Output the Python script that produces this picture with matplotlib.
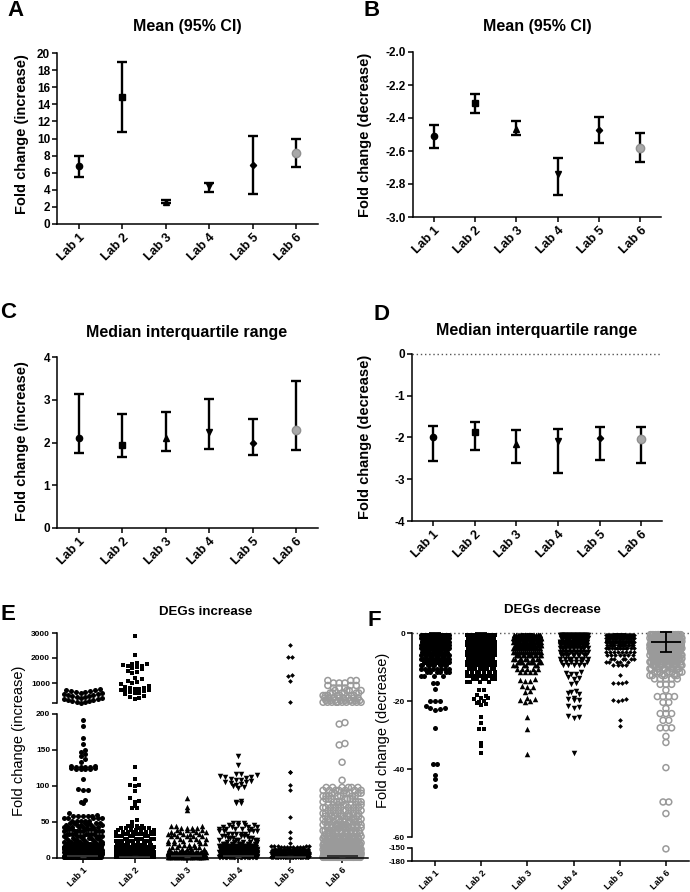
import numpy as np
import matplotlib
matplotlib.use("Agg")
import matplotlib.pyplot as plt

plt.rcParams['font.family'] = ['Liberation Sans', 'DejaVu Sans']
plt.rcParams['font.weight'] = 'bold'
plt.rcParams['axes.unicode_minus'] = False

labs = ['Lab 1', 'Lab 2', 'Lab 3', 'Lab 4', 'Lab 5', 'Lab 6']

# A - mean (95% CI), increase
inc_mean = [6.8, 14.9, 2.6, 4.4, 6.9, 8.3]
inc_ci_lo = [5.5, 10.8, 2.4, 3.7, 3.5, 6.7]
inc_ci_hi = [8.0, 19.0, 2.8, 4.75, 10.3, 10.0]

# B - mean (95% CI), decrease
dec_mean = [-2.51, -2.31, -2.465, -2.74, -2.47, -2.58]
dec_ci_lo = [-2.584, -2.368, -2.50, -2.865, -2.553, -2.668]
dec_ci_hi = [-2.443, -2.252, -2.42, -2.644, -2.392, -2.493]

# C - median + IQR, increase
inc_med = [2.10, 1.94, 2.10, 2.25, 2.00, 2.29]
inc_q1 = [1.75, 1.67, 1.79, 1.85, 1.71, 1.83]
inc_q3 = [3.13, 2.66, 2.71, 3.02, 2.56, 3.43]

# D - median + IQR, decrease
dec_med = [-2.00, -1.88, -2.16, -2.09, -2.02, -2.04]
dec_q1 = [-2.57, -2.29, -2.61, -2.85, -2.55, -2.60]
dec_q3 = [-1.72, -1.64, -1.83, -1.79, -1.74, -1.76]

# F - SD around the mean (only lab 6 / lab 1 caps visible)
dec_sd = [2.6, 2.4, 2.3, 2.5, 2.2, 2.9]

# E - individual DEGs (increase): dense bands as level/count, plus single points
e_levels = [
    [1, 3, 5, 7, 9, 11, 13, 15, 17, 19, 22, 25, 28, 31, 34, 37, 40, 43, 46, 49, 52, 55, 58],
    [1, 3, 5, 7, 9, 11, 13, 15, 18, 21, 24, 27, 30, 33, 36, 39, 42, 45],
    [1, 3, 5, 7, 9, 12, 15, 18, 21, 24, 27, 30, 33, 36, 39, 42, 45],
    [1, 3, 5, 7, 9, 11, 13, 15, 17, 19, 22, 25, 28, 31, 34, 37, 40, 43, 46, 48],
    [1, 3, 5, 7, 9, 11, 13, 15, 17],
    [1, 3, 5, 7, 9, 12, 15, 18, 21, 24, 27, 30, 34, 38, 42, 46, 50, 54, 58, 62, 66, 70,
     74, 78, 82, 86, 90, 94, 98, 230, 300, 400, 500, 600, 700, 800, 900, 1000, 1100],
]
e_counts = [
    [40, 40, 40, 40, 35, 30, 30, 25, 25, 20, 6, 6, 6, 7, 8, 8, 7, 7, 6, 6, 5, 5, 4],
    [40, 40, 40, 35, 35, 30, 30, 25, 8, 7, 7, 7, 7, 7, 6, 5, 5, 4],
    [25, 25, 20, 20, 15, 5, 5, 4, 4, 4, 4, 5, 5, 4, 4, 4, 3],
    [35, 35, 30, 30, 25, 25, 20, 20, 15, 12, 5, 5, 5, 5, 5, 5, 5, 4, 4, 3],
    [35, 30, 30, 25, 20, 15, 12, 8, 5],
    [40, 40, 35, 30, 25, 20, 18, 15, 14, 12, 12, 12, 10, 10, 10, 10, 9, 9, 9, 8, 8, 8,
     8, 8, 7, 7, 7, 7, 6, 10, 9, 8, 7, 6, 4, 3, 3, 3, 3],
]
e_single = [
    [59, 60, 62, 76, 78, 80, 94, 95, 96, 110, 123, 123, 124, 124, 125, 125, 126, 126, 127,
     127, 128, 128, 133, 137, 141, 144, 147, 150, 159, 166, 183, 192,
     220, 230, 250, 270, 300, 320, 340, 360, 380, 400, 420, 440, 460, 480, 500, 520, 540,
     560, 580, 600, 620, 640, 660, 680, 700, 720, 740, 760],
    [50, 53, 70, 70, 72, 78, 79, 84, 93, 100, 101, 101, 110, 127,
     360, 400, 450, 500, 550, 600, 620, 650, 680, 700, 720, 740, 760, 780, 800, 820, 850,
     900, 950, 1000, 1050, 1100, 1150, 1200, 1400, 1450, 1500, 1550, 1600, 1650, 1680,
     1700, 1720, 1750, 1780, 1800, 2120, 2880],
    [67, 71, 84],
    [76, 77, 78, 79, 97, 98, 100, 101, 103, 104, 105, 106, 107, 108, 109, 110, 111, 112,
     113, 114, 115, 116, 117, 129, 142],
    [21, 28, 36, 57, 94, 101, 119, 120, 250, 1080, 1280, 1320, 2050, 2050, 2520],
    [108, 133, 157, 159, 186, 188],
]

# F - individual DEGs (decrease)
f_levels = [
    [-0.5, -1.5, -2.5, -3.5, -4.5, -5.5, -6.5, -7.5, -8.5, -9.5, -10.5, -11.5, -12.5],
    [-0.5, -1.5, -2.5, -3.5, -4.5, -5.5, -6.5, -7.5, -8.5, -9.5, -10.5, -11.5, -12.5, -13.5, -14.5],
    [-0.5, -1.5, -2.5, -3.5, -4.5, -5.5, -6.5, -7.5, -8.5, -9.5, -10.5, -11.5],
    [-0.5, -1.5, -2.5, -3.5, -4.5, -5.5, -6.5, -7.5, -8.5, -9.5],
    [-0.5, -1.5, -2.5, -3.5, -4.5, -5.5, -6.5, -7.5, -8.5, -9.5],
    [-0.5, -1.5, -2.5, -3.5, -4.5, -5.5, -6.5, -7.5, -8.5, -9.5, -10.5, -11.5, -12.5, -13.5],
]
f_counts = [
    [30, 30, 30, 25, 25, 20, 18, 15, 12, 10, 8, 6, 4],
    [30, 30, 30, 30, 25, 25, 20, 20, 18, 15, 10, 8, 8, 6, 4],
    [30, 30, 25, 25, 20, 15, 12, 10, 8, 6, 5, 4],
    [30, 30, 25, 20, 15, 12, 10, 8, 6, 5],
    [30, 25, 20, 15, 12, 8, 7, 6, 5, 4],
    [30, 30, 30, 25, 25, 20, 20, 15, 15, 12, 10, 8, 6, 5],
]
f_single = [
    [-14.6, -14.6, -16.4, -20.0, -20.0, -20.0, -21.6, -22.0, -22.2, -22.4, -22.5, -27.9,
     -38.6, -38.6, -41.9, -43.0, -45.0],
    [-16.9, -16.9, -18.2, -18.5, -19.0, -19.2, -19.5, -20.0, -20.3, -20.6, -21.0, -21.2,
     -24.6, -26.5, -28.3, -28.3, -32.3, -33.3, -35.3],
    [-13.5, -13.8, -14.0, -14.2, -15.5, -15.8, -16.0, -17.0, -17.3, -19.0, -19.5, -19.8,
     -20.0, -20.2, -24.6, -28.3, -35.6],
    [-11.5, -11.8, -12.0, -12.2, -13.0, -13.3, -13.6, -14.6, -15.0, -17.2, -17.4, -17.6,
     -17.8, -19.0, -19.3, -19.6, -19.8, -21.6, -21.8, -22.0, -24.5, -24.7, -25.0, -35.3],
    [-12.3, -14.4, -14.6, -14.6, -14.8, -19.4, -19.6, -19.7, -19.9, -25.5, -27.3],
    [-15.1, -15.1, -15.1, -16.8, -18.7, -18.7, -18.7, -18.7, -20.4, -20.4, -22.2, -23.7,
     -23.7, -23.7, -25.7, -25.7, -27.9, -27.9, -27.9, -30.4, -32.2, -39.6, -49.7, -49.7,
     -53.1, -152.0],
]

markers = ['o', 's', '^', 'v', 'D', 'o']
ms_top = [4.5, 5.0, 4.8, 5.0, 3.2, 6.0]
sw_diam = [5.0, 5.0, 5.5, 5.5, 4.5, 6.0]   # px
sw_scale = [1.0, 0.9, 1.0, 1.0, 0.75, 1.0]
gray = '#9a9a9a'

W, H = 690.0, 892.0
fig = plt.figure(figsize=(6.9, 8.92), dpi=100)


def box(l, t, r, b):
    return [l / W, 1 - b / H, (r - l) / W, (b - t) / H]


def style(ax, ylim, yticks, fs, show_x=True, ylabels=None):
    ax.set_xlim(0.5, 6.5)
    ax.set_ylim(*ylim)
    for s in ['top', 'right']:
        ax.spines[s].set_visible(False)
    ax.spines['left'].set_linewidth(1.1)
    ax.spines['bottom'].set_linewidth(1.1)
    ax.set_yticks(yticks)
    if ylabels is not None:
        ax.set_yticklabels(ylabels)
    ax.tick_params(axis='y', length=3.5, width=1.1, labelsize=fs, pad=1.5)
    if show_x:
        ax.set_xticks(np.arange(1, 7))
        ax.set_xticklabels(labs, rotation=45, ha='right', rotation_mode='anchor')
        ax.tick_params(axis='x', length=3.5, width=1.1, labelsize=fs + 0.5, pad=2)
    else:
        ax.spines['bottom'].set_visible(False)
        ax.set_xticks([])


def summary(ax, centers, lo, hi):
    for i in range(6):
        c = centers[i]
        face = '#a8a8a8' if i == 5 else 'black'
        edge = '#909090' if i == 5 else 'black'
        ax.errorbar(i + 1, c, yerr=[[c - lo[i]], [hi[i] - c]], fmt=markers[i],
                    ms=ms_top[i], mfc=face, mec=edge, ecolor='black', elinewidth=1.7,
                    capsize=3.6, capthick=1.7, clip_on=False, zorder=3)


def swarm(ax, center, vals, diam_px, half_px):
    # column-scatter layout: rows of one marker height, spread sideways
    vals = np.sort(np.asarray(vals, dtype=float))
    if vals.size == 0:
        return vals, vals
    ypx = ax.transData.transform(np.column_stack([np.full(vals.size, center), vals]))[:, 1]
    unit = ax.transData.transform([[1, 0]])[0, 0] - ax.transData.transform([[0, 0]])[0, 0]
    bins = np.floor((ypx - ypx.min()) / diam_px)
    xs = np.full(vals.size, float(center))
    cap = int(2 * half_px / (diam_px * 0.95)) + 1
    for b in np.unique(bins):
        idx = np.where(bins == b)[0]
        n = idx.size
        if n > 1.5 * cap:
            # crowded row: spread every level over the whole width
            pos = np.linspace(-half_px, half_px, n)
            stride = max(1, int(round(n * 0.382)))
            while np.gcd(stride, n) != 1:
                stride += 1
            xs[idx] = center + pos[(np.arange(n) * stride) % n] / unit
            continue
        step = diam_px * 0.95
        if n > 1 and (n - 1) / 2 * step > half_px:
            step = half_px / ((n - 1) / 2)
        k = np.arange(n)
        slots = np.where(k % 2 == 1, (k + 1) // 2, -(k // 2)).astype(float)
        if n % 2 == 0:
            slots -= 0.5
        xs[idx] = center + slots * step / unit
    return vals, xs


def draw_swarm(ax, i, vals, half_px):
    v, xs = swarm(ax, i + 1, vals, sw_diam[i], half_px)
    s = (sw_diam[i] * 0.72 * sw_scale[i]) ** 2
    if i == 5:
        ax.scatter(xs, v, s=s, marker='o', facecolors='none', edgecolors=gray,
                   linewidths=1.1, clip_on=False, zorder=2)
    else:
        ax.scatter(xs, v, s=s, marker=markers[i], color='black', linewidths=0,
                   clip_on=False, zorder=2)


# ---------------- A ----------------
ax_a = fig.add_axes(box(57, 53, 318, 224))
style(ax_a, (0, 20), np.arange(0, 21, 2), 8.5)
summary(ax_a, inc_mean, inc_ci_lo, inc_ci_hi)

# ---------------- B ----------------
ax_b = fig.add_axes(box(413, 52, 661, 217))
bt = np.arange(-3.0, -1.99, 0.2)
style(ax_b, (-3.0, -2.0), bt, 8.5, ylabels=[f'{t:.1f}' for t in bt])
summary(ax_b, dec_mean, dec_ci_lo, dec_ci_hi)

# ---------------- C ----------------
ax_c = fig.add_axes(box(57, 357, 318, 528))
style(ax_c, (0, 4), np.arange(0, 5), 8.5)
summary(ax_c, inc_med, inc_q1, inc_q3)

# ---------------- D ----------------
ax_d = fig.add_axes(box(412, 354, 662, 521))
style(ax_d, (-4, 0), np.arange(-4, 1), 8.5)
ax_d.axhline(0, ls=(0, (1, 2)), color='#555555', lw=1.0, clip_on=False)
summary(ax_d, dec_med, dec_q1, dec_q3)

# ---------------- E ----------------
ax_et = fig.add_axes(box(57, 633, 368, 703))
ax_eb = fig.add_axes(box(57, 714, 368, 858))
style(ax_et, (200, 3000), [200, 1000, 2000, 3000], 6, show_x=False,
      ylabels=['', '1000', '2000', '3000'])
style(ax_eb, (0, 200), [0, 50, 100, 150, 200], 6)
for i in range(6):
    allv = np.concatenate([np.repeat(e_levels[i], e_counts[i]), e_single[i]])
    draw_swarm(ax_eb, i, allv[allv <= 200], 19)
    draw_swarm(ax_et, i, allv[allv > 200], 19)
for i in range(6):
    ax_eb.errorbar(i + 1, inc_med[i], yerr=[[inc_med[i] - inc_q1[i]], [inc_q3[i] - inc_med[i]]],
                   fmt='none', ecolor='#333333', elinewidth=1.2, capsize=2, zorder=3)
    ax_eb.hlines(inc_med[i], i + 1 - 0.3, i + 1 + 0.3, color='#333333', lw=1.4, zorder=3)

# ---------------- F ----------------
ax_ft = fig.add_axes(box(412, 633, 689, 837))
ax_fb = fig.add_axes(box(412, 848, 689, 861))
style(ax_ft, (-60, 0), [-60, -40, -20, 0], 6, show_x=False)
style(ax_fb, (-180, -150), [-180, -150], 6)
ax_ft.axhline(0, ls=(0, (1, 2)), color='#555555', lw=1.0, clip_on=False)
for i in range(6):
    allv = np.concatenate([np.repeat(f_levels[i], f_counts[i]), f_single[i]])
    hp = 16 if i == 5 else 14
    draw_swarm(ax_ft, i, allv[allv >= -60], hp)
    draw_swarm(ax_fb, i, allv[allv < -60], hp)
for i in range(6):
    ax_ft.errorbar(i + 1, dec_mean[i], yerr=dec_sd[i], fmt='none', ecolor='black',
                   elinewidth=1.3, capsize=4, capthick=1.3, clip_on=False, zorder=3)
    ax_ft.hlines(dec_mean[i], i + 1 - 0.33, i + 1 + 0.33, color='black', lw=1.3, zorder=3)

# ---------------- texts ----------------
def ftxt(x, y, s, **kw):
    fig.text(x / W, 1 - y / H, s, ha='center', va='center', **kw)


ftxt(187, 27, 'Mean (95% CI)', fontsize=11.5)
ftxt(537, 27, 'Mean (95% CI)', fontsize=11.5)
ftxt(187, 332, 'Median interquartile range', fontsize=11.5)
ftxt(537, 331, 'Median interquartile range', fontsize=11.5)
ftxt(206, 612, 'DEGs increase', fontsize=9.5)
ftxt(552, 610, 'DEGs decrease', fontsize=9.5)

ftxt(22, 134, 'Fold change (increase)', fontsize=10.5, rotation=90)
ftxt(365, 135, 'Fold change (decrease)', fontsize=10.5, rotation=90)
ftxt(22, 441, 'Fold change (increase)', fontsize=10.5, rotation=90)
ftxt(365, 437, 'Fold change (decrease)', fontsize=10.5, rotation=90)
ftxt(19, 741, 'Fold change (increase)', fontsize=10.5, rotation=90, fontweight='normal')
ftxt(383, 730, 'Fold change (decrease)', fontsize=10.5, rotation=90, fontweight='normal')

for letter, px, py in [('A', 16, 11), ('B', 372, 11), ('C', 8, 313), ('D', 382, 314),
                       ('E', 8, 614), ('F', 374, 620)]:
    ftxt(px, py, letter, fontsize=16)

fig.savefig('out.png', dpi=100)
